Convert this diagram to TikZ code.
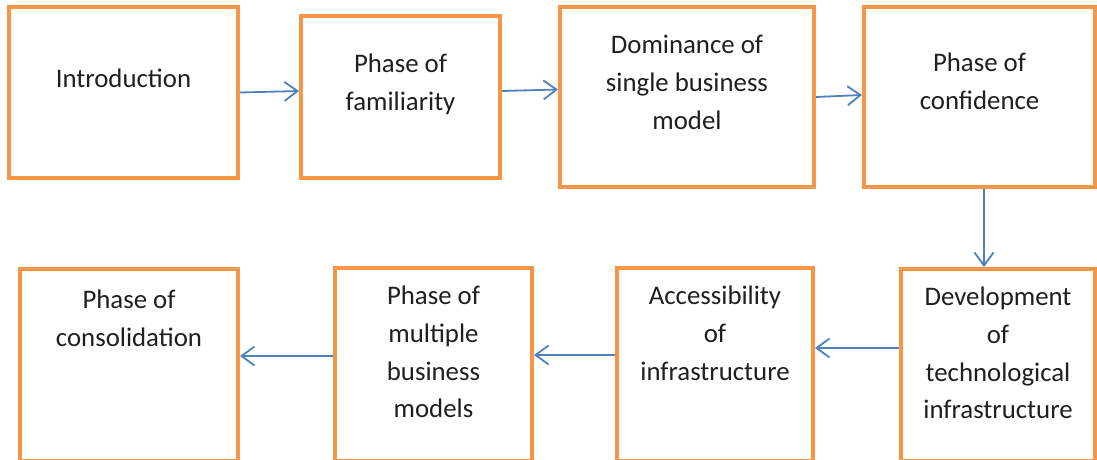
\documentclass[tikz,border=0pt]{standalone}
\usepackage{fontspec}
\setmainfont{Carlito}
\usetikzlibrary{arrows.meta}
\definecolor{boxorange}{HTML}{F79646}
\definecolor{arrowblue}{HTML}{4F81BD}
\begin{document}
\begin{tikzpicture}[x=1pt,y=-1pt,
  box/.style={draw=boxorange, line width=4pt, inner sep=0pt, outer sep=2pt, fill=white},
  lbl/.style={anchor=north, align=center, inner sep=0pt, font=\fontsize{26.8}{37.7}\selectfont, text=black!88},
  link/.style={draw=arrowblue, line width=1.8pt, -{Straight Barb[length=13pt,width=19pt]}}]
\useasboundingbox (0,0) rectangle (1097,460);
\clip (0,0) rectangle (1097,460);
\fill[white] (0,0) rectangle (1097,460);
% top row
\node[box, minimum width=229pt, minimum height=171pt] (b1) at (123.5,92.5) {};
\node[box, minimum width=199pt, minimum height=162pt] (b2) at (400.5,97) {};
\node[box, minimum width=254pt, minimum height=180pt] (b3) at (687,97) {};
\node[box, minimum width=231pt, minimum height=180pt] (b4) at (979.5,97) {};
% bottom row
\node[box, minimum width=194pt, minimum height=192pt] (b5) at (998,365) {};
\node[box, minimum width=196pt, minimum height=193pt] (b6) at (715,364.5) {};
\node[box, minimum width=197pt, minimum height=193pt] (b7) at (433.5,364.5) {};
\node[box, minimum width=218pt, minimum height=192pt] (b8) at (129,365) {};
% labels
\node[lbl] (t1) at (123.5,67.5) {\rule{0pt}{20pt}Introduction};
\node[lbl] (t2) at (400.5,52.5) {\rule{0pt}{20pt}Phase of\\familiarity};
\node[lbl] (t3) at (687,33.5) {\rule{0pt}{20pt}Dominance of\\single business\\model};
\node[lbl] (t4) at (979.5,51.5) {\rule{0pt}{20pt}Phase of\\confidence};
\node[lbl] (t5) at (998,285.5) {\rule{0pt}{20pt}Development\\of\\technological\\infrastructure};
\node[lbl] (t6) at (715,284.5) {\rule{0pt}{20pt}Accessibility\\of\\infrastructure};
\node[lbl] (t7) at (433.5,284.5) {\rule{0pt}{20pt}Phase of\\multiple\\business\\models};
\node[lbl] (t8) at (129,288.5) {\rule{0pt}{20pt}Phase of\\consolidation};
% connectors
\draw[link] (b1.east |- 0,92.5) -- (b2.west |- 0,91);
\draw[link] (b2.east |- 0,91) -- (b3.west |- 0,89.5);
\draw[link] (b3.east |- 0,97) -- (b4.west |- 0,95);
\draw[link] (b4.south -| 984,0) -- (b5.north -| 984,0);
\draw[link] (b5.west |- 0,348) -- (b6.east |- 0,348);
\draw[link] (b6.west |- 0,355) -- (b7.east |- 0,355);
\draw[link] (b7.west |- 0,356) -- (b8.east |- 0,356);
\end{tikzpicture}
\end{document}
